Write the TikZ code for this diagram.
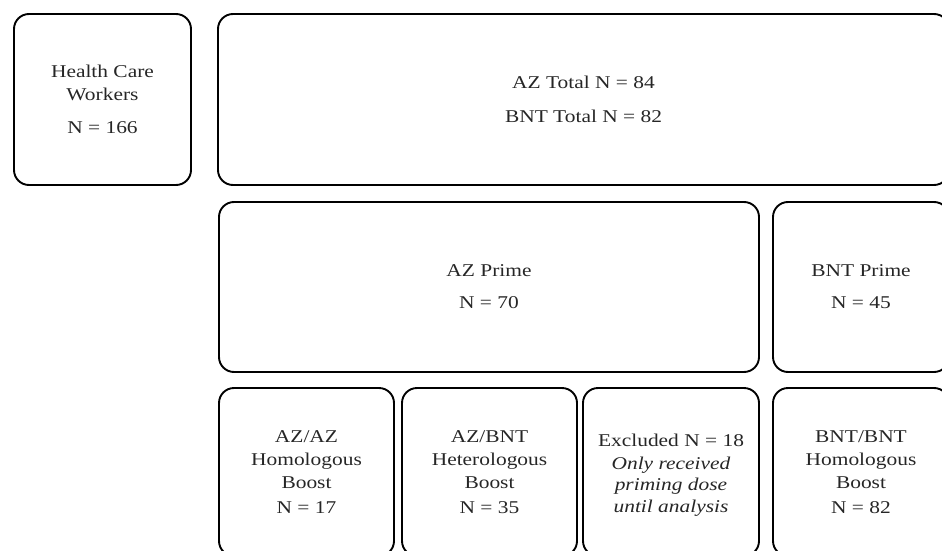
\documentclass[tikz,border=0pt]{standalone}
\usepackage{fontspec}
\setmainfont[FakeStretch=1.19]{Liberation Serif}
\begin{document}
\begin{tikzpicture}[x=1pt,y=-1pt,
  box/.style={draw=black, line width=1.9pt, rounded corners=15pt, rectangle,
    inner sep=0pt, align=center, font=\fontsize{18}{23}\selectfont, text=black!85},
  boxtext/.style={inner sep=0pt, align=center, text=black!85}]
\path[use as bounding box] (0,0) rectangle (942,551);
\clip (0,0) rectangle (942,551);
\node[box, minimum width=177pt, minimum height=171pt] (hcw) at (102.5,99.5)
  {Health Care\\Workers\\[10pt]N = 166};
\node[box, minimum width=731pt, minimum height=171pt] (total) at (583.5,99.5)
  {AZ Total N = 84\\[11pt]BNT Total N = 82};
\node[box, minimum width=540pt, minimum height=170pt] (azp) at (489,287)
  {AZ Prime\\[9pt]N = 70};
\node[box, minimum width=176pt, minimum height=170pt] (bntp) at (861,287)
  {BNT Prime\\[9pt]N = 45};
\node[box, minimum width=175pt, minimum height=168pt] (azaz) at (306.5,472)
  {AZ/AZ\\Homologous\\Boost\\[2pt]N = 17};
\node[box, minimum width=175pt, minimum height=168pt] (azbnt) at (489.5,472)
  {AZ/BNT\\Heterologous\\Boost\\[2pt]N = 35};
\node[box, minimum width=176pt, minimum height=168pt] (excl) at (671,472) {};
\node[boxtext, font=\fontsize{18}{21.5}\selectfont] (excltext) at ([yshift=-3pt]excl.center)
  {Excluded N = 18\\[1pt]\textit{Only received}\\\textit{priming dose}\\\textit{until analysis}};
\node[box, minimum width=176pt, minimum height=168pt] (bntbnt) at (861,472)
  {BNT/BNT\\Homologous\\Boost\\[2pt]N = 82};
\end{tikzpicture}
\end{document}
